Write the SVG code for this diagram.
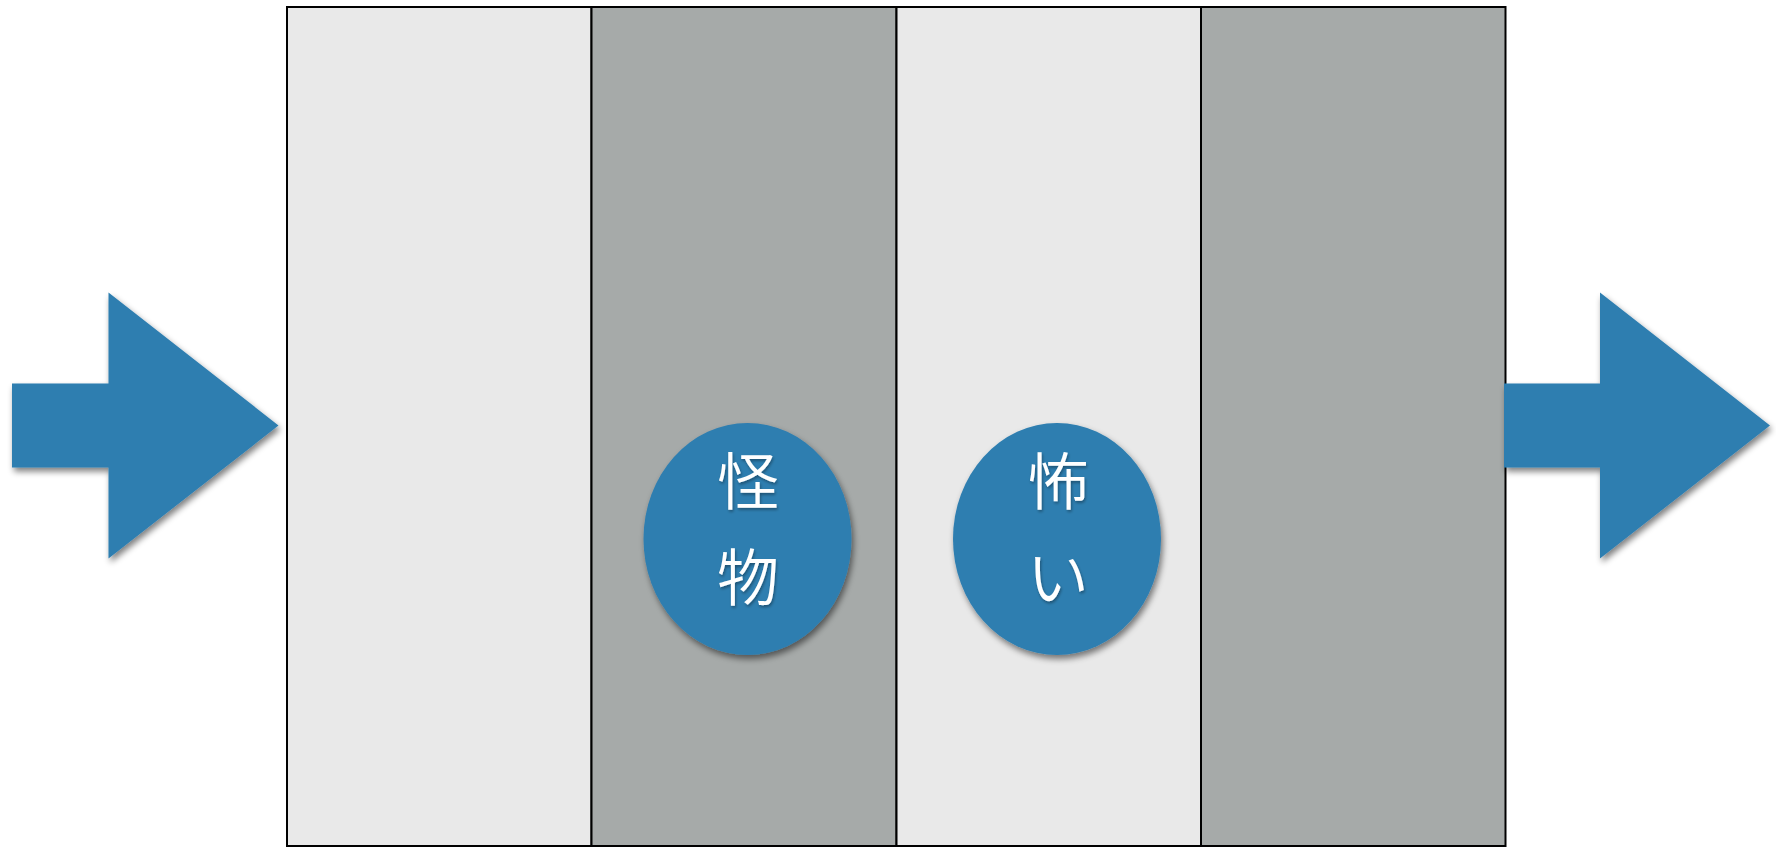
<svg xmlns="http://www.w3.org/2000/svg" width="1776" height="847" viewBox="0 0 1776 847">
<style>
.light{fill:#e9e9e9;stroke:#000;stroke-width:2}
.dark{fill:#a6aaa9;stroke:#000;stroke-width:2}
.blue{fill:#2e7eb0}
.lbl{fill:#fff;font-family:"Noto Sans CJK JP","Noto Sans CJK SC",sans-serif;font-size:62px;font-weight:350;text-anchor:middle}
</style>
<defs>
<filter id="sh" x="-20%" y="-20%" width="140%" height="140%">
<feGaussianBlur in="SourceAlpha" stdDeviation="3"/>
<feOffset dx="2" dy="4" result="b"/>
<feComponentTransfer><feFuncA type="linear" slope="0.5"/></feComponentTransfer>
<feMerge><feMergeNode/><feMergeNode in="SourceGraphic"/></feMerge>
</filter>
<filter id="tsh" x="-20%" y="-20%" width="140%" height="140%">
<feGaussianBlur in="SourceAlpha" stdDeviation="1.5"/>
<feOffset dx="1" dy="2"/>
<feComponentTransfer><feFuncA type="linear" slope="0.35"/></feComponentTransfer>
<feMerge><feMergeNode/><feMergeNode in="SourceGraphic"/></feMerge>
</filter>
</defs>
<rect width="1776" height="847" fill="#fff"/>
<g id="columns">
<rect id="col1" class="light" x="287" y="7" width="304.5" height="839"/>
<rect id="col2" class="dark" x="591.5" y="7" width="305" height="839"/>
<rect id="col3" class="light" x="896.5" y="7" width="304.5" height="839"/>
<rect id="col4" class="dark" x="1201" y="7" width="304.5" height="839"/>
</g>
<g id="arrow-in" filter="url(#sh)">
<polygon class="blue" points="12,383.5 108.5,383.5 108.5,292.5 278.5,425.5 108.5,558.5 108.5,467.5 12,467.5"/>
</g>
<g id="arrow-out" filter="url(#sh)">
<polygon class="blue" points="1504,383.5 1600,383.5 1600,292.5 1770,425.5 1600,558.5 1600,467.5 1504,467.5"/>
</g>
<g id="node-kaibutsu">
<ellipse class="blue" cx="747.5" cy="539" rx="104" ry="116" filter="url(#sh)"/>
<g filter="url(#tsh)">
<text class="lbl" x="748" y="505">怪</text>
<text class="lbl" x="748" y="601">物</text>
</g>
</g>
<g id="node-kowai">
<ellipse class="blue" cx="1057" cy="539" rx="104" ry="116" filter="url(#sh)"/>
<g filter="url(#tsh)">
<text class="lbl" x="1058" y="505">怖</text>
<text class="lbl" x="1058" y="601">い</text>
</g>
</g>
<g id="connectors"/>
</svg>
